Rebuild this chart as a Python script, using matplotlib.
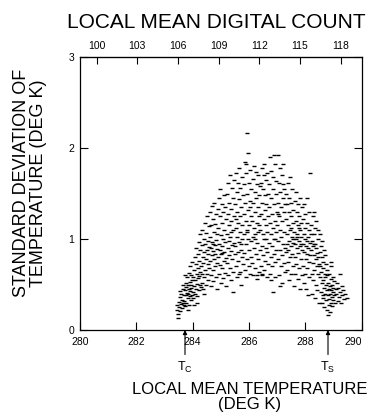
import numpy as np
import matplotlib
matplotlib.use("Agg")
import matplotlib.pyplot as plt

plt.rcParams["font.family"] = ["Liberation Sans", "DejaVu Sans"]
plt.rcParams["mathtext.fontset"] = "custom"
plt.rcParams["mathtext.rm"] = "Liberation Sans"
plt.rcParams["mathtext.it"] = "Liberation Sans"

# --- points : (temperature moyenne locale K, ecart-type K) ---
temp_k = [
    283.43, 283.45, 283.48, 283.50, 283.52, 283.55, 283.57, 283.58, 283.60, 283.62, 283.63, 283.65, 283.66, 283.68, 283.69, 283.47, 283.56, 283.67,
    283.71, 283.72, 283.73, 283.75, 283.76, 283.77, 283.78, 283.80, 283.81, 283.82, 283.83, 283.85, 283.86, 283.87, 283.88, 283.89, 283.90, 283.91, 283.92, 283.93, 283.94, 283.95, 283.96, 283.97, 283.98, 283.99, 283.84, 283.74,
    284.01, 284.02, 284.03, 284.05, 284.06, 284.07, 284.08, 284.10, 284.11, 284.12, 284.13, 284.15, 284.16, 284.17, 284.18, 284.20, 284.21, 284.22, 284.23, 284.24, 284.25, 284.26, 284.27, 284.28, 284.29, 284.04, 284.14, 284.19,
    284.31, 284.32, 284.33, 284.34, 284.35, 284.36, 284.37, 284.38, 284.40, 284.41, 284.42, 284.43, 284.44, 284.45, 284.46, 284.47, 284.48, 284.50, 284.51, 284.52, 284.53, 284.54, 284.55, 284.56, 284.57, 284.58, 284.59, 284.39,
    284.61, 284.62, 284.63, 284.64, 284.65, 284.66, 284.67, 284.68, 284.69, 284.70, 284.71, 284.72, 284.73, 284.74, 284.75, 284.76, 284.77, 284.78, 284.79, 284.80, 284.81, 284.82, 284.83, 284.84, 284.85, 284.86, 284.87, 284.88, 284.89, 284.72,
    284.91, 284.92, 284.93, 284.94, 284.95, 284.96, 284.97, 284.98, 284.99, 285.00, 285.01, 285.02, 285.03, 285.04, 285.05, 285.06, 285.07, 285.08, 285.09, 285.10, 285.11, 285.12, 285.13, 285.14, 285.15, 285.16, 285.17, 285.18, 285.19, 285.05,
    285.21, 285.22, 285.23, 285.24, 285.25, 285.26, 285.27, 285.28, 285.29, 285.30, 285.31, 285.32, 285.33, 285.34, 285.35, 285.36, 285.37, 285.38, 285.39, 285.40, 285.41, 285.42, 285.43, 285.44, 285.45, 285.46, 285.47, 285.48, 285.49, 285.36,
    285.51, 285.52, 285.53, 285.54, 285.55, 285.56, 285.57, 285.58, 285.59, 285.60, 285.61, 285.62, 285.63, 285.64, 285.65, 285.66, 285.67, 285.68, 285.69, 285.70, 285.71, 285.72, 285.73, 285.74, 285.75, 285.76, 285.77, 285.78, 285.79, 285.55, 285.65, 285.72,
    285.81, 285.82, 285.83, 285.84, 285.85, 285.86, 285.87, 285.88, 285.89, 285.90, 285.91, 285.92, 285.93, 285.94, 285.95, 285.96, 285.97, 285.98, 285.99, 286.00, 286.01, 286.02, 286.03, 286.04, 286.05, 286.06, 286.07, 286.08, 286.09, 285.88, 286.05, 285.95,
    286.11, 286.12, 286.13, 286.14, 286.15, 286.16, 286.17, 286.18, 286.19, 286.20, 286.21, 286.22, 286.23, 286.24, 286.25, 286.26, 286.27, 286.28, 286.29, 286.30, 286.31, 286.32, 286.33, 286.34, 286.35, 286.36, 286.37, 286.38, 286.39, 286.20, 286.30, 286.35,
    286.41, 286.42, 286.43, 286.44, 286.45, 286.46, 286.47, 286.48, 286.49, 286.50, 286.51, 286.52, 286.53, 286.54, 286.55, 286.56, 286.57, 286.58, 286.59, 286.60, 286.61, 286.62, 286.63, 286.64, 286.65, 286.66, 286.67, 286.68, 286.69, 286.45, 286.55, 286.62,
    286.71, 286.72, 286.73, 286.74, 286.75, 286.76, 286.77, 286.78, 286.79, 286.80, 286.81, 286.82, 286.83, 286.84, 286.85, 286.86, 286.87, 286.88, 286.89, 286.90, 286.91, 286.92, 286.93, 286.94, 286.95, 286.96, 286.97, 286.98, 286.99, 286.80, 286.88, 286.94,
    287.01, 287.02, 287.03, 287.04, 287.05, 287.06, 287.07, 287.08, 287.09, 287.10, 287.11, 287.12, 287.13, 287.14, 287.15, 287.16, 287.17, 287.18, 287.19, 287.20, 287.21, 287.22, 287.23, 287.24, 287.25, 287.26, 287.27, 287.28, 287.29, 287.12, 287.22, 287.05,
    287.31, 287.32, 287.33, 287.34, 287.35, 287.36, 287.37, 287.38, 287.39, 287.40, 287.41, 287.42, 287.43, 287.44, 287.45, 287.46, 287.47, 287.48, 287.49, 287.50, 287.51, 287.52, 287.53, 287.54, 287.55, 287.56, 287.57, 287.58, 287.59, 287.40, 287.50, 287.55,
    287.61, 287.62, 287.63, 287.64, 287.65, 287.66, 287.67, 287.68, 287.69, 287.70, 287.71, 287.72, 287.73, 287.74, 287.75, 287.76, 287.77, 287.78, 287.79, 287.80, 287.81, 287.82, 287.83, 287.84, 287.85, 287.86, 287.87, 287.88, 287.89, 287.70, 287.78, 287.85,
    287.91, 287.92, 287.93, 287.94, 287.95, 287.96, 287.97, 287.98, 287.99, 288.00, 288.01, 288.02, 288.03, 288.04, 288.05, 288.06, 288.07, 288.08, 288.09, 288.10, 288.11, 288.12, 288.13, 288.14, 288.15, 288.16, 288.17, 288.18, 288.19, 288.05,
    288.21, 288.22, 288.23, 288.24, 288.25, 288.26, 288.27, 288.28, 288.29, 288.30, 288.31, 288.32, 288.33, 288.34, 288.35, 288.36, 288.37, 288.38, 288.39, 288.40, 288.41, 288.42, 288.43, 288.44, 288.45, 288.46, 288.47, 288.48, 288.49, 288.30,
    288.51, 288.52, 288.53, 288.54, 288.55, 288.56, 288.57, 288.58, 288.59, 288.60, 288.61, 288.62, 288.63, 288.64, 288.65, 288.66, 288.67, 288.68, 288.69, 288.70, 288.71, 288.72, 288.73, 288.74, 288.75, 288.76, 288.77, 288.78, 288.79, 288.65,
    288.81, 288.82, 288.83, 288.84, 288.85, 288.86, 288.87, 288.88, 288.89, 288.90, 288.91, 288.92, 288.93, 288.94, 288.95, 288.96, 288.97, 288.98, 288.99, 289.00, 289.02, 289.04, 289.06, 289.08, 288.80, 288.90,
    289.11, 289.13, 289.15, 289.17, 289.19, 289.22, 289.24, 289.26, 289.29, 289.32, 289.35, 289.38, 289.42, 289.47,
]
std_k = [
    0.22, 0.27, 0.18, 0.31, 0.25, 0.36, 0.21, 0.29, 0.40, 0.33, 0.24, 0.45, 0.30, 0.38, 0.27, 0.13, 0.43, 0.50,
    0.32, 0.44, 0.26, 0.52, 0.38, 0.47, 0.30, 0.41, 0.58, 0.35, 0.49, 0.40, 0.63, 0.28, 0.45, 0.53, 0.37, 0.70, 0.43, 0.50, 0.33, 0.60, 0.46, 0.39, 0.55, 0.75, 0.22, 0.60,
    0.42, 0.58, 0.35, 0.66, 0.48, 0.80, 0.40, 0.55, 0.72, 0.45, 0.90, 0.62, 0.37, 0.51, 0.84, 0.68, 0.44, 0.97, 0.59, 0.76, 0.50, 0.88, 0.64, 1.05, 0.47, 0.28, 0.30, 0.57,
    0.70, 0.52, 0.93, 0.61, 1.10, 0.80, 0.45, 0.74, 1.00, 0.58, 0.86, 1.18, 0.66, 0.95, 0.50, 0.78, 1.07, 0.62, 0.88, 1.25, 0.72, 0.98, 0.55, 0.83, 1.14, 0.68, 0.91, 0.40,
    1.02, 0.76, 1.30, 0.60, 0.90, 1.15, 0.48, 0.82, 1.36, 0.97, 0.66, 1.22, 0.87, 0.54, 1.08, 0.78, 1.40, 0.93, 0.70, 1.17, 0.84, 0.58, 1.28, 0.99, 0.74, 1.05, 0.89, 0.45, 1.33, 0.95,
    0.80, 1.12, 0.62, 1.45, 0.95, 0.71, 1.25, 0.88, 1.55, 0.52, 1.04, 0.83, 1.38, 0.68, 1.18, 0.92, 0.57, 1.30, 1.00, 0.76, 1.48, 0.86, 1.10, 0.63, 1.35, 0.97, 0.79, 1.22, 0.48, 0.85,
    1.06, 0.74, 1.50, 0.90, 1.28, 0.60, 1.62, 0.98, 1.15, 0.82, 1.40, 0.68, 1.70, 1.02, 0.87, 1.33, 0.55, 1.20, 0.93, 1.56, 0.78, 1.10, 1.45, 0.64, 0.42, 1.25, 0.96, 1.65, 0.84, 1.08,
    1.38, 0.92, 1.72, 1.12, 0.70, 1.52, 1.02, 0.58, 1.30, 0.86, 1.62, 1.18, 0.76, 1.44, 0.97, 1.78, 1.25, 0.64, 1.08, 1.56, 0.88, 1.35, 0.50, 1.15, 1.68, 0.80, 1.00, 1.48, 0.72, 1.22, 0.62, 0.95,
    1.28, 0.85, 1.60, 1.05, 0.66, 1.85, 1.40, 0.94, 1.20, 1.72, 0.58, 1.10, 2.17, 1.50, 0.78, 1.32, 1.00, 1.95, 0.70, 1.62, 1.15, 0.88, 1.42, 1.76, 0.62, 1.25, 0.98, 1.55, 0.80, 1.82, 1.35, 1.08,
    1.20, 0.74, 1.66, 1.02, 1.40, 0.60, 1.80, 1.12, 0.90, 1.52, 1.30, 0.68, 1.05, 1.74, 0.84, 1.45, 1.18, 0.56, 1.60, 0.96, 1.35, 0.78, 1.70, 1.08, 0.64, 1.48, 1.25, 0.88, 1.58, 1.00, 0.60, 1.15,
    1.10, 0.70, 1.62, 1.28, 0.92, 1.78, 0.60, 1.40, 1.05, 1.55, 0.82, 1.22, 1.82, 0.66, 1.00, 1.48, 1.32, 0.76, 1.65, 1.15, 0.90, 1.38, 0.58, 1.72, 1.08, 0.86, 1.50, 1.25, 0.72, 0.62, 1.70, 1.00,
    1.35, 0.96, 1.60, 0.62, 1.90, 1.18, 0.80, 1.45, 1.05, 1.75, 0.70, 1.28, 0.92, 1.55, 0.42, 1.12, 1.68, 0.84, 1.38, 1.00, 0.58, 1.82, 1.20, 0.75, 1.50, 1.08, 1.64, 0.88, 1.30, 0.55, 1.92, 1.00,
    1.15, 0.78, 1.92, 1.40, 0.98, 1.62, 0.60, 1.25, 1.78, 0.88, 1.10, 1.52, 0.70, 1.35, 1.02, 1.70, 0.82, 1.20, 0.52, 1.45, 0.95, 1.60, 1.30, 0.74, 1.08, 1.55, 0.90, 1.38, 0.64, 0.48, 1.82, 1.28,
    1.22, 0.86, 1.50, 0.66, 1.05, 1.38, 0.95, 1.62, 0.75, 1.15, 1.30, 0.55, 0.98, 1.45, 1.10, 0.80, 1.68, 1.25, 0.92, 0.62, 1.40, 1.02, 1.55, 0.84, 1.18, 0.70, 1.32, 1.00, 0.48, 0.88, 1.12, 0.96,
    1.08, 0.80, 1.42, 0.95, 0.62, 1.20, 1.00, 1.52, 0.72, 0.90, 1.30, 1.05, 0.56, 1.15, 0.85, 1.38, 0.98, 0.68, 1.25, 0.92, 1.10, 0.45, 1.45, 0.78, 1.02, 1.18, 0.60, 0.88, 1.35, 1.02, 1.12, 0.95,
    0.95, 1.22, 0.70, 1.05, 0.52, 1.38, 0.86, 1.12, 0.62, 1.00, 1.28, 0.78, 0.92, 0.45, 1.18, 0.84, 1.45, 0.68, 1.02, 0.90, 0.38, 1.10, 0.75, 1.30, 0.58, 0.96, 1.72, 0.82, 1.06, 0.98,
    0.88, 1.15, 0.62, 0.98, 0.40, 1.25, 0.74, 0.92, 0.55, 1.05, 0.82, 1.30, 0.66, 0.95, 0.35, 1.12, 0.78, 0.50, 0.90, 1.20, 0.70, 0.85, 0.44, 1.00, 0.62, 0.80, 1.10, 0.30, 0.72, 0.95,
    0.86, 0.58, 1.05, 0.70, 0.42, 0.92, 0.64, 0.30, 0.80, 0.52, 0.98, 0.68, 0.38, 0.75, 0.55, 0.88, 0.46, 0.25, 0.62, 0.82, 0.40, 0.58, 0.72, 0.33, 0.50, 0.66, 0.22, 0.44, 0.60, 0.35,
    0.38, 0.52, 0.28, 0.45, 0.62, 0.34, 0.48, 0.20, 0.40, 0.56, 0.30, 0.44, 0.70, 0.36, 0.50, 0.26, 0.42, 0.58, 0.33, 0.46, 0.38, 0.54, 0.30, 0.45, 0.17, 0.75,
    0.40, 0.52, 0.32, 0.46, 0.36, 0.62, 0.42, 0.30, 0.48, 0.38, 0.44, 0.34, 0.40, 0.35,
]

temp_ticks = [280, 282, 284, 286, 288, 290]
std_ticks = [0, 1, 2, 3]
count_ticks = [100, 103, 106, 109, 112, 115, 118]

T_COUNT100 = 280.59
COUNTS_PER_K = 2.076

t_c, t_s = 283.73, 288.81  # fleches T_C et T_S

x = np.array(temp_k)
y = np.array(std_k)

fig = plt.figure(figsize=(3.68, 4.20), dpi=100)
ax = fig.add_axes([80 / 368, 90 / 420, 281.5 / 368, 273 / 420])

ax.plot(x, y, ls="none", marker="_", ms=2.6, mew=1.0, color="black")

ax.set_xlim(280, 290)
ax.set_ylim(0, 3)
ax.set_xticks(temp_ticks)
ax.set_yticks(std_ticks)
ax.tick_params(direction="in", length=6, width=0.8, labelsize=7.5,
               right=True, top=False)
ax.tick_params(axis="x", pad=5)
ax.tick_params(axis="y", pad=4)
for s in ax.spines.values():
    s.set_linewidth(0.9)
# le "290" touche le bord droit : on le decale un peu
ax.get_xticklabels()[-1].set_horizontalalignment("right")


def t2c(t):
    return 100 + (t - T_COUNT100) * COUNTS_PER_K


def c2t(c):
    return T_COUNT100 + (c - 100) / COUNTS_PER_K


sec = ax.secondary_xaxis("top", functions=(t2c, c2t))
sec.set_xticks(count_ticks)
sec.tick_params(direction="in", length=5, width=0.8, labelsize=7.5, pad=4)

# fleches T_C / T_S sous l'axe
for t, lab in [(t_c, r"$\mathrm{T_C}$"), (t_s, r"$\mathrm{T_S}$")]:
    ax.annotate("", xy=(t, 0), xycoords=("data", "axes fraction"),
                xytext=(t, -0.09), textcoords=("data", "axes fraction"),
                arrowprops=dict(arrowstyle="-|>", color="black", lw=0.8,
                                mutation_scale=6, shrinkA=0, shrinkB=0),
                annotation_clip=False)
    ax.text(t, -0.138, lab, transform=ax.get_xaxis_transform(),
            ha="center", va="center", fontsize=9)

fig.text(216 / 368, 1 - 22 / 420, "LOCAL MEAN DIGITAL COUNT",
         ha="center", va="center", fontsize=15)
fig.text(250 / 368, 1 - 397 / 420, "LOCAL MEAN TEMPERATURE\n(DEG K)",
         ha="center", va="center", fontsize=12, linespacing=1.0)
fig.text(30 / 368, 1 - 183 / 420, "STANDARD DEVIATION OF\nTEMPERATURE (DEG K)",
         ha="center", va="center", rotation=90, fontsize=13, linespacing=1.05)

fig.savefig("out.png", dpi=100)
